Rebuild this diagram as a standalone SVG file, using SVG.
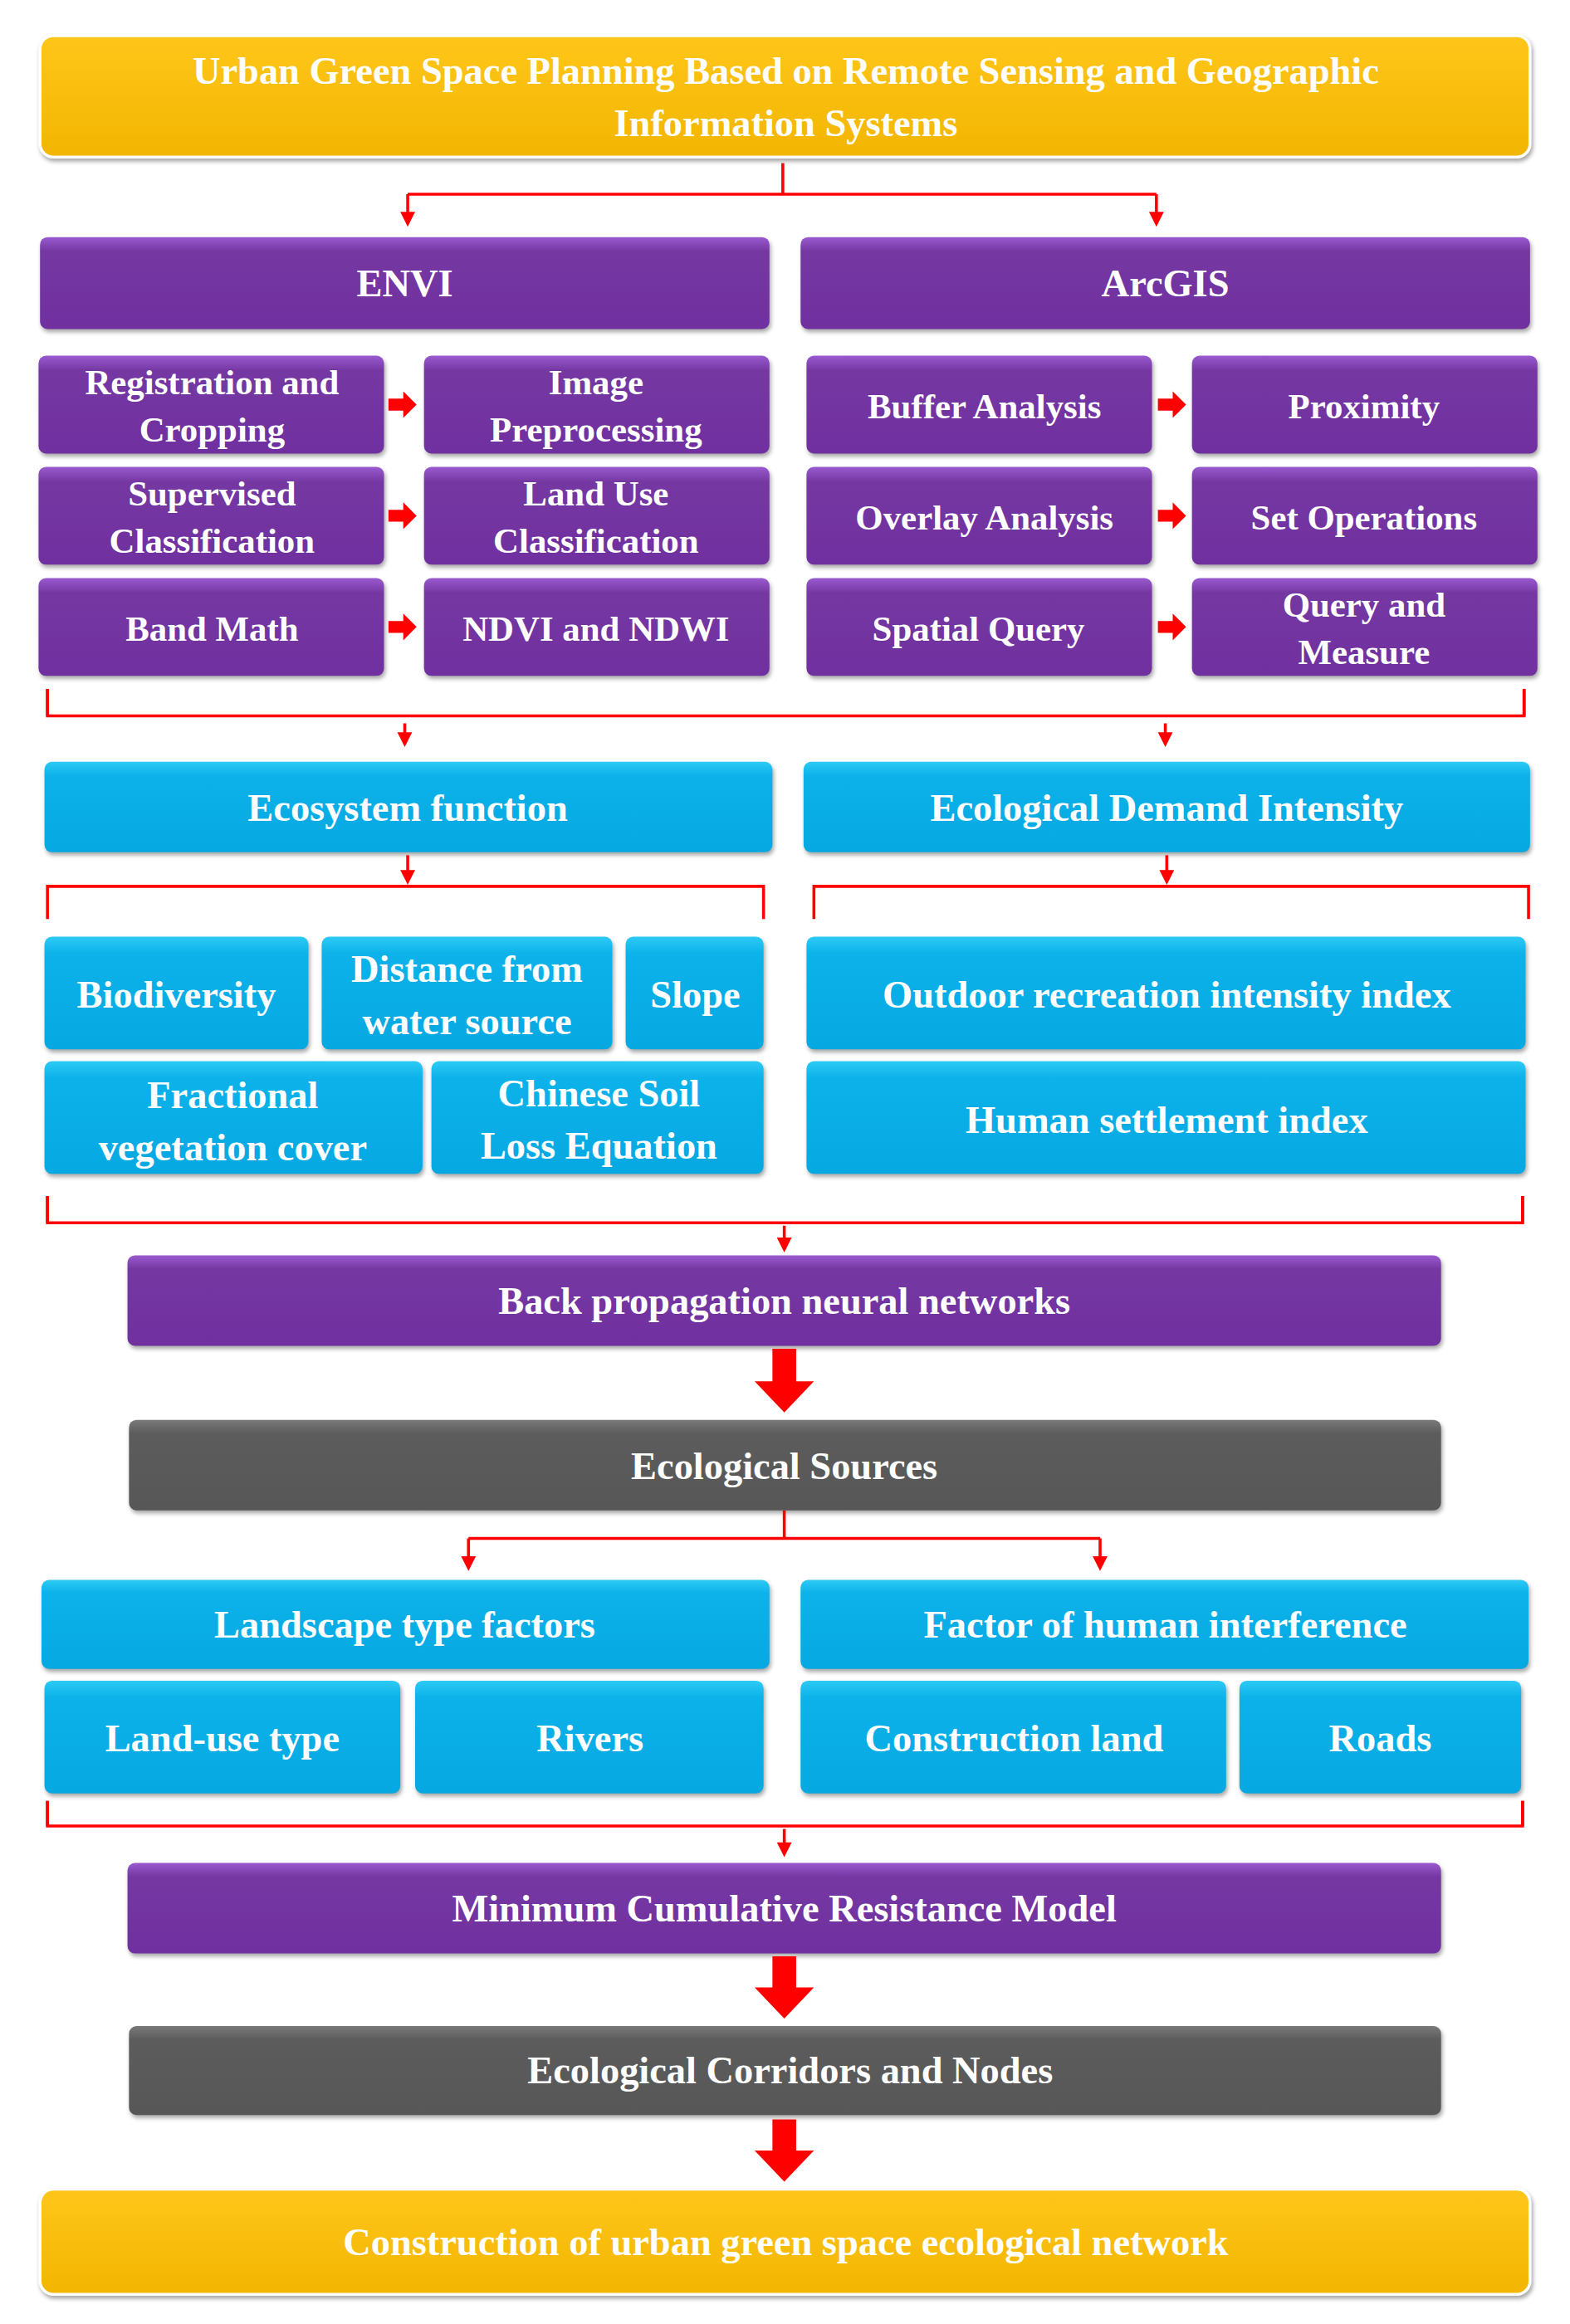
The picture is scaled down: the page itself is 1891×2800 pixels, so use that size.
<svg xmlns="http://www.w3.org/2000/svg" width="1891" height="2800" viewBox="0 0 1891 2800">
<defs>
<linearGradient id="gp" x1="0" y1="0" x2="0" y2="1"><stop offset="0" stop-color="#9a5ad0"/><stop offset="0.15" stop-color="#7538a2"/><stop offset="1" stop-color="#7030a0"/></linearGradient>
<linearGradient id="gc" x1="0" y1="0" x2="0" y2="1"><stop offset="0" stop-color="#2ccaf5"/><stop offset="0.15" stop-color="#0db2ea"/><stop offset="1" stop-color="#06a8e2"/></linearGradient>
<linearGradient id="gg" x1="0" y1="0" x2="0" y2="1"><stop offset="0" stop-color="#7a7a7a"/><stop offset="0.15" stop-color="#5c5c5c"/><stop offset="1" stop-color="#575757"/></linearGradient>
<linearGradient id="gy" x1="0" y1="0" x2="0" y2="1"><stop offset="0" stop-color="#ffc61a"/><stop offset="1" stop-color="#f2b500"/></linearGradient>
<marker id="ah" viewBox="0 0 10 10" refX="9" refY="5" markerWidth="5" markerHeight="5" orient="auto"><path d="M0,0 L10,5 L0,10 z" fill="#f00"/></marker>
<style>
.p{fill:url(#gp)} .c{fill:url(#gc)} .g{fill:url(#gg)} .y{fill:url(#gy);stroke:#fff;stroke-width:2}
rect{filter:drop-shadow(1px 2px 1.5px rgba(0,0,0,0.35))}
text{font-family:"Liberation Serif","Times New Roman",serif;font-weight:bold;fill:#fff;text-anchor:middle;dominant-baseline:central}
.l{stroke:#f00;stroke-width:2;fill:none}
.sa{fill:#f00}
</style>
</defs>
<rect width="1891" height="2800" fill="#fff" style="filter:none"/>
<g transform="scale(1.7857)">
<g id="title"><rect class="y" x="27" y="24" width="1005" height="82" rx="9"/><text x="530" y="48" font-size="26">Urban Green Space Planning Based on Remote Sensing and Geographic</text><text x="530" y="83" font-size="26">Information Systems</text></g>
<g id="envi"><rect class="p" x="27" y="160" width="492" height="62" rx="5"/><text x="273" y="191" font-size="26">ENVI</text></g>
<g id="arcgis"><rect class="p" x="540" y="160" width="492" height="62" rx="5"/><text x="786" y="191" font-size="26">ArcGIS</text></g>
<g id="reg"><rect class="p" x="26" y="240" width="233" height="66" rx="5"/><text x="143" y="258" font-size="24">Registration and</text><text x="143" y="290" font-size="24">Cropping</text></g>
<g id="img"><rect class="p" x="286" y="240" width="233" height="66" rx="5"/><text x="402" y="258" font-size="24">Image</text><text x="402" y="290" font-size="24">Preprocessing</text></g>
<g id="sup"><rect class="p" x="26" y="315" width="233" height="66" rx="5"/><text x="143" y="333" font-size="24">Supervised</text><text x="143" y="365" font-size="24">Classification</text></g>
<g id="luc"><rect class="p" x="286" y="315" width="233" height="66" rx="5"/><text x="402" y="333" font-size="24">Land Use</text><text x="402" y="365" font-size="24">Classification</text></g>
<g id="band"><rect class="p" x="26" y="390" width="233" height="66" rx="5"/><text x="143" y="424" font-size="24">Band Math</text></g>
<g id="ndvi"><rect class="p" x="286" y="390" width="233" height="66" rx="5"/><text x="402" y="424" font-size="24">NDVI and NDWI</text></g>
<g id="buf"><rect class="p" x="544" y="240" width="233" height="66" rx="5"/><text x="664" y="274" font-size="24">Buffer Analysis</text></g>
<g id="prox"><rect class="p" x="804" y="240" width="233" height="66" rx="5"/><text x="920" y="274" font-size="24">Proximity</text></g>
<g id="ovl"><rect class="p" x="544" y="315" width="233" height="66" rx="5"/><text x="664" y="349" font-size="24">Overlay Analysis</text></g>
<g id="setop"><rect class="p" x="804" y="315" width="233" height="66" rx="5"/><text x="920" y="349" font-size="24">Set Operations</text></g>
<g id="spq"><rect class="p" x="544" y="390" width="233" height="66" rx="5"/><text x="660" y="424" font-size="24">Spatial Query</text></g>
<g id="qm"><rect class="p" x="804" y="390" width="233" height="66" rx="5"/><text x="920" y="408" font-size="24">Query and</text><text x="920" y="440" font-size="24">Measure</text></g>
<g id="eco"><rect class="c" x="30" y="514" width="491" height="61" rx="5"/><text x="275" y="545" font-size="26">Ecosystem function</text></g>
<g id="edi"><rect class="c" x="542" y="514" width="490" height="61" rx="5"/><text x="787" y="545" font-size="26">Ecological Demand Intensity</text></g>
<g id="bio"><rect class="c" x="30" y="632" width="178" height="76" rx="5"/><text x="119" y="671" font-size="26">Biodiversity</text></g>
<g id="dist"><rect class="c" x="217" y="632" width="196" height="76" rx="5"/><text x="315" y="654" font-size="26">Distance from</text><text x="315" y="689" font-size="26">water source</text></g>
<g id="slope"><rect class="c" x="422" y="632" width="93" height="76" rx="5"/><text x="469" y="671" font-size="26">Slope</text></g>
<g id="frac"><rect class="c" x="30" y="716" width="255" height="76" rx="5"/><text x="157" y="739" font-size="26">Fractional</text><text x="157" y="774" font-size="26">vegetation cover</text></g>
<g id="csle"><rect class="c" x="291" y="716" width="224" height="76" rx="5"/><text x="404" y="738" font-size="26">Chinese Soil</text><text x="404" y="773" font-size="26">Loss Equation</text></g>
<g id="outd"><rect class="c" x="544" y="632" width="485" height="76" rx="5"/><text x="787" y="671" font-size="26">Outdoor recreation intensity index</text></g>
<g id="hum"><rect class="c" x="544" y="716" width="485" height="76" rx="5"/><text x="787" y="756" font-size="26">Human settlement index</text></g>
<g id="bp"><rect class="p" x="86" y="847" width="886" height="61" rx="5"/><text x="529" y="878" font-size="26">Back propagation neural networks</text></g>
<g id="es"><rect class="g" x="87" y="958" width="885" height="61" rx="5"/><text x="529" y="989" font-size="26">Ecological Sources</text></g>
<g id="ltf"><rect class="c" x="28" y="1066" width="491" height="60" rx="5"/><text x="273" y="1096" font-size="26">Landscape type factors</text></g>
<g id="fhi"><rect class="c" x="540" y="1066" width="491" height="60" rx="5"/><text x="786" y="1096" font-size="26">Factor of human interference</text></g>
<g id="lut"><rect class="c" x="30" y="1134" width="240" height="76" rx="5"/><text x="150" y="1173" font-size="26">Land-use type</text></g>
<g id="riv"><rect class="c" x="280" y="1134" width="235" height="76" rx="5"/><text x="398" y="1173" font-size="26">Rivers</text></g>
<g id="cl"><rect class="c" x="540" y="1134" width="287" height="76" rx="5"/><text x="684" y="1173" font-size="26">Construction land</text></g>
<g id="roads"><rect class="c" x="836" y="1134" width="190" height="76" rx="5"/><text x="931" y="1173" font-size="26">Roads</text></g>
<g id="mcr"><rect class="p" x="86" y="1257" width="886" height="61" rx="5"/><text x="529" y="1288" font-size="26">Minimum Cumulative Resistance Model</text></g>
<g id="ecn"><rect class="g" x="87" y="1367" width="885" height="60" rx="5"/><text x="533" y="1397" font-size="26">Ecological Corridors and Nodes</text></g>
<g id="final"><rect class="y" x="27" y="1477" width="1005" height="71" rx="9"/><text x="530" y="1513" font-size="26">Construction of urban green space ecological network</text></g>
<g id="connectors">
<path class="l" d="M528,110 V131 M275,131 H780 M275,131 V151 M780,131 V151" />
<path class="sa" d="M270,143 L275,153 L280,143 z M775,143 L780,153 L785,143 z"/>
<path class="sa" d="M262,269 h10 v-5 l9,9 l-9,9 v-5 h-10 z M262,344 h10 v-5 l9,9 l-9,9 v-5 h-10 z M262,419 h10 v-5 l9,9 l-9,9 v-5 h-10 z M781,269 h10 v-5 l9,9 l-9,9 v-5 h-10 z M781,344 h10 v-5 l9,9 l-9,9 v-5 h-10 z M781,419 h10 v-5 l9,9 l-9,9 v-5 h-10 z"/>
<path class="l" d="M32,465 V483 H1028 V465" stroke-width="2"/>
<path class="l" d="M32,465 V483 M1028,465 V483" stroke-width="4"/>
<path class="l" d="M273,488 V500 M786,488 V500"/>
<path class="sa" d="M268,494 L273,504 L278,494 z M781,494 L786,504 L791,494 z"/>
<path class="l" d="M275,577 V592"/><path class="sa" d="M270,587 L275,597 L280,587 z"/>
<path class="l" d="M32,620 V598 H515 V620"/>
<path class="l" d="M787,577 V592"/><path class="sa" d="M782,587 L787,597 L792,587 z"/>
<path class="l" d="M549,620 V598 H1031 V620"/>
<path class="l" d="M32,807 V825 H1027 V807"/>
<path class="l" d="M32,807 V825 M1027,807 V825" stroke-width="4"/>
<path class="l" d="M529,827 V840"/><path class="sa" d="M524,835 L529,845 L534,835 z"/>
<path class="sa" d="M521,910 H537 V932 H549 L529,953 L509,932 H521 z"/>
<path class="l" d="M529,1019 V1038 M316,1038 H742 M316,1038 V1055 M742,1038 V1055"/>
<path class="sa" d="M311,1050 L316,1060 L321,1050 z M737,1050 L742,1060 L747,1050 z"/>
<path class="l" d="M32,1215 V1232 H1027 V1215"/>
<path class="l" d="M32,1215 V1232 M1027,1215 V1232" stroke-width="4"/>
<path class="l" d="M529,1234 V1247"/><path class="sa" d="M524,1243 L529,1253 L534,1243 z"/>
<path class="sa" d="M521,1320 H537 V1341 H549 L529,1362 L509,1341 H521 z"/>
<path class="sa" d="M521,1430 H537 V1451 H549 L529,1472 L509,1451 H521 z"/>
</g>
</g>
</svg>
